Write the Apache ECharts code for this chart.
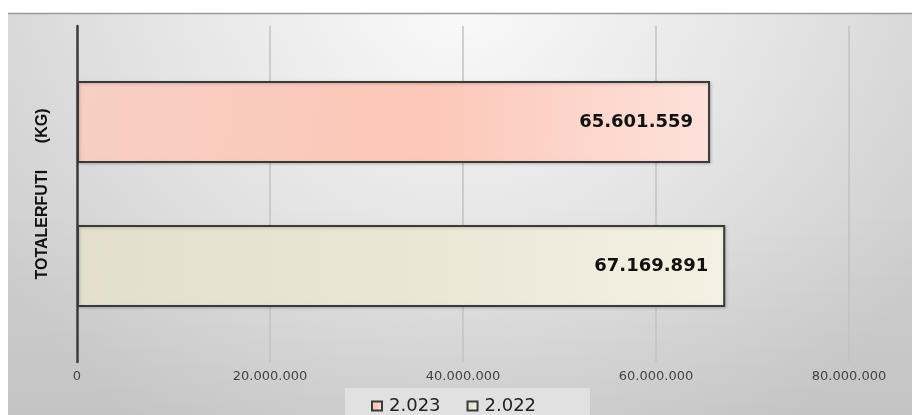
<!DOCTYPE html>
<html>
<head>
<meta charset="utf-8">
<script src="https://cdn.jsdelivr.net/npm/echarts@6/dist/echarts.min.js"></script>
<style>html,body{margin:0;padding:0;background:#fff;}#c{width:912px;height:415px;}</style>
</head>
<body>
<div id="c"></div>
<script>
const categories = ['TOTALERFUTI\u00a0\u00a0\u00a0\u00a0\u00a0\u00a0(KG)'];
const seriesNames = ['2.023', '2.022'];
const values2023 = [65601559];
const values2022 = [67169891];
const xTicks = [0, 20000000, 40000000, 60000000, 80000000];

function fmt(v) {
  return String(Math.round(v)).replace(/\B(?=(\d{3})+(?!\d))/g, '.');
}

const chart = echarts.init(document.getElementById('c'));
const barBorder = { borderColor: '#3a3a3a', borderWidth: 2, shadowColor: 'rgba(0,0,0,0.22)', shadowBlur: 3, shadowOffsetX: 1, shadowOffsetY: 1 };
const labelStyle = { show: true, position: 'insideRight', distance: 17, formatter: p => fmt(p.value), fontFamily: 'DejaVu Sans', fontWeight: 'bold', fontSize: 18, color: '#111' };
chart.setOption({
  animation: false,
  graphic: [
    { type: 'rect', z: -100, shape: { x: 8, y: 13, width: 904, height: 402 },
      style: { fill: new echarts.graphic.RadialGradient(0.5, 0.0, 1.3, [
        { offset: 0, color: '#f9f9f9' }, { offset: 0.55, color: '#e6e6e6' }, { offset: 1, color: '#d3d3d3' }]) } },
    { type: 'rect', z: -99, shape: { x: 8, y: 13, width: 904, height: 402 },
      style: { fill: new echarts.graphic.LinearGradient(0, 0, 0, 1, [
        { offset: 0, color: 'rgba(0,0,0,0)' }, { offset: 0.5, color: 'rgba(0,0,0,0.02)' }, { offset: 1, color: 'rgba(0,0,0,0.07)' }]) } },
    { type: 'line', z: -98, shape: { x1: 8, y1: 13.5, x2: 912, y2: 13.5 }, style: { stroke: '#9a9a9a', lineWidth: 1.5 } },
    { type: 'rect', z: -97, shape: { x: 345, y: 388, width: 245, height: 27 }, style: { fill: '#e1e1e1' } }
  ],
  grid: { left: 77, right: 63, top: 26, bottom: 53, containLabel: false },
  legend: {
    data: seriesNames,
    left: 366, top: 392,
    itemWidth: 10, itemHeight: 9, itemGap: 26,
    icon: 'rect',
    textStyle: { fontFamily: 'DejaVu Sans', fontSize: 18, color: '#222', padding: [0, 0, 0, 2] }
  },
  xAxis: {
    type: 'value', min: 0, max: 80000000, interval: 20000000,
    axisLine: { show: false }, axisTick: { show: false },
    splitLine: { show: true, lineStyle: { color: '#c2c2c2', width: 1.5 } },
    axisLabel: { formatter: v => xTicks.includes(v) ? fmt(v) : '', fontFamily: 'DejaVu Sans', fontSize: 13, color: '#444', margin: 8 }
  },
  yAxis: {
    type: 'category', data: categories, inverse: true,
    axisLine: { show: true, lineStyle: { color: '#3c3c3c', width: 2.5 } },
    axisTick: { show: false }, axisLabel: { show: false },
    name: categories[0], nameLocation: 'middle', nameRotate: 90, nameGap: 26,
    nameTextStyle: { fontFamily: 'Liberation Sans Narrow, Liberation Sans, sans-serif', fontWeight: 'bold', fontSize: 16, color: '#111' }
  },
  series: [
    { name: seriesNames[0], type: 'bar', data: values2023, barWidth: 82, barGap: '75.6%',
      itemStyle: Object.assign({ color: new echarts.graphic.LinearGradient(0, 0, 1, 0.3, [
        { offset: 0, color: '#f7cfc3' }, { offset: 0.55, color: '#fcc7b8' }, { offset: 1, color: '#fde1da' }]) }, barBorder),
      label: labelStyle },
    { name: seriesNames[1], type: 'bar', data: values2022, barWidth: 82, barGap: '75.6%',
      itemStyle: Object.assign({ color: new echarts.graphic.LinearGradient(0, 0, 1, 0.3, [
        { offset: 0, color: '#e3dece' }, { offset: 0.55, color: '#ebe7d7' }, { offset: 1, color: '#f4f1e4' }]) }, barBorder),
      label: labelStyle }
  ]
});
</script>
</body>
</html>
